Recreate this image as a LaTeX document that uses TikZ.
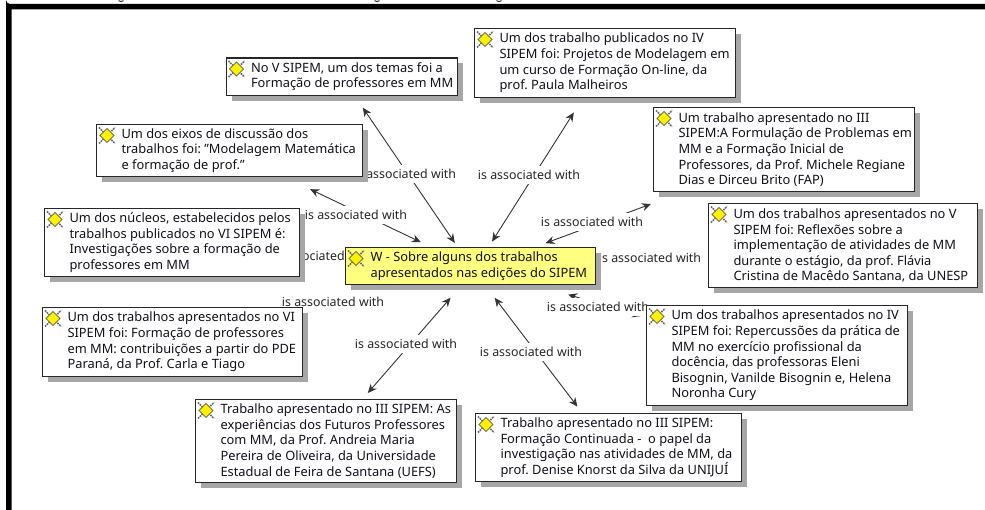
\documentclass[tikz,border=0pt]{standalone}
\usepackage{fontspec}
\setmainfont{Noto Sans}
\usetikzlibrary{arrows.meta,calc}
\pgfdeclarelayer{bg}
\pgfsetlayers{bg,main}
\frenchspacing
\definecolor{inkc}{HTML}{10101C}
\definecolor{wyellow}{HTML}{FFFF80}
\colorlet{boxshade}{black!35}
\tikzset{
  concept/.style={draw=black!85,line width=1.1pt,fill=white,inner sep=0pt,anchor=north west,text=inkc},
  boxshadow/.style={fill=boxshade,draw=none},
  link/.style={draw=black!80,line width=0.9pt,{Stealth[length=9pt,width=8pt]}-{Stealth[length=9pt,width=8pt]}},
  linklabel/.style={fill=white,inner xsep=0.5pt,inner ysep=0pt,minimum height=18pt,text=black!85,font=\fontsize{12.4}{14}\selectfont},
  pics/concepticon/.style={code={
    \draw[black!60,line width=1.5pt,dash pattern=on 1.6pt off 0.9pt] (-8,-8)--(8,8) (-8,8)--(8,-8);
    \draw[black!60!yellow,fill=yellow,line width=0.8pt] (-7,0)--(0,-7)--(7,0)--(0,7)--cycle;
  }}
}
\newlength{\bw}\newlength{\bh}
% [fill], name, x0, y0, x1, y1, text
\newcommand{\conceptbox}[7][white]{%
  \setlength{\bw}{\dimexpr#5pt-#3pt\relax}\setlength{\bh}{\dimexpr#6pt-#4pt\relax}%
  \path[boxshadow] ({#3+6},{#4+6}) -- ({#5+6},{#4+6}) -- ({#5+6},{#6+6}) -- ({#3+6},{#6+6}) -- cycle;%
  \node[concept,fill=#1,minimum width=\bw,minimum height=\bh] (#2) at (#3,#4)
    {\hspace*{25pt}\begin{minipage}{\dimexpr\bw-25pt\relax}\fontsize{12.85}{15.6}\selectfont\raggedright #7\end{minipage}};%
  \pic at (#3+11,#4+11.5) {concepticon};%
}
\begin{document}
\begin{tikzpicture}[x=1pt,y=-1pt]
\useasboundingbox (0,0) rectangle (985,510);
\conceptbox{na}{225.5}{57.5}{457}{95}{No V SIPEM, um dos temas foi a\\Formação de professores em MM}
\conceptbox{nb}{96}{124}{362}{176}{Um dos eixos de discussão dos\\trabalhos foi: "Modelagem Matemática\\e formação de prof."}
\conceptbox{nc}{44}{208}{299}{276}{Um dos núcleos, estabelecidos pelos\\trabalhos publicados no VI SIPEM é:\\Investigações sobre a formação de\\professores em MM}
\conceptbox{nd}{42}{307}{302}{376}{Um dos trabalhos apresentados no VI\\SIPEM foi: Formação de professores\\em MM: contribuições a partir do PDE\\Paraná, da Prof. Carla e Tiago}
\conceptbox{ne}{195}{399}{456}{482}{Trabalho apresentado no III SIPEM: As\\experiências dos Futuros Professores\\com MM, da Prof. Andreia Maria\\Pereira de Oliveira, da Universidade\\Estadual de Feira de Santana (UEFS)}
\conceptbox{nf}{475}{413}{741}{481}{Trabalho apresentado no III SIPEM:\\Formação Continuada -\ \ o papel da\\investigação nas atividades de MM, da\\prof. Denise Knorst da Silva da UNIJUÍ}
\conceptbox{ng}{646}{305}{907}{405}{Um dos trabalhos apresentados no IV\\SIPEM foi: Repercussões da prática de\\MM no exercício profissional da\\docência, das professoras Eleni\\Bisognin, Vanilde Bisognin e, Helena\\Noronha Cury}
\conceptbox{nh}{708}{203}{977}{287}{Um dos trabalhos apresentados no V\\SIPEM foi: Reflexões sobre a\\implementação de atividades de MM\\durante o estágio, da prof. Flávia\\Cristina de Macêdo Santana, da UNESP}
\conceptbox{ni}{653}{107}{914}{191}{Um trabalho apresentado no III\\SIPEM:A Formulação de Problemas em\\MM e a Formação Inicial de\\Professores, da Prof. Michele Regiane\\Dias e Dirceu Brito (FAP)}
\conceptbox{nj}{474}{28}{735}{97}{Um dos trabalho publicados no IV\\SIPEM foi: Projetos de Modelagem em\\um curso de Formação On-line, da\\prof. Paula Malheiros}
\conceptbox[wyellow]{nw}{345}{247}{595}{284}{W - Sobre alguns dos trabalhos\\apresentados nas edições do SIPEM}
\begin{pgfonlayer}{bg}
\draw[link,shorten <=5pt,shorten >=14pt] (nw) -- (na);
\draw[link,shorten <=11pt,shorten >=28pt] (nw) -- (nb);
\draw[link,shorten <=4pt,shorten >=4pt] (nw) -- (nc);
\draw[link,shorten <=60pt,shorten >=4pt] (nw) -- (nd);
\draw[link,shorten <=38pt,shorten >=8pt] ($(nw)+(5,3)$) -- (ne);
\draw[link,shorten <=16pt,shorten >=8pt] (nw) -- (nf);
\draw[link,shorten <=34pt,shorten >=5pt] (nw) -- (ng);
\draw[link,shorten <=8pt,shorten >=22pt] (nw) -- (nh);
\draw[link,shorten <=80pt,shorten >=142pt] ($(nw)+(0,5)$) -- ($(ni)+(0,5)$);
\draw[link,shorten <=29pt,shorten >=17pt] ($(nw)+(6,0)$) -- (nj);
\node[linklabel] (la) at (405,174) {is associated with};
\node[linklabel] (lb) at (356,215) {is associated with};
\node[linklabel] (lc) at (322,256) {is associated with};
\node[linklabel] (ld) at (333,302) {is associated with};
\node[linklabel] (le) at (406,344) {is associated with};
\node[linklabel] (lf) at (531,352) {is associated with};
\node[linklabel] (lg) at (598,307) {is associated with};
\node[linklabel] (lh) at (650,258) {is associated with};
\node[linklabel] (li) at (592,222) {is associated with};
\node[linklabel] (lj) at (529,175) {is associated with};
\end{pgfonlayer}
% page frame and the cut-off line of print above it
\fill[black] (985,4) -- (10,4) arc[start angle=90,end angle=180,radius=4] -- (6,510) -- (11.5,510) -- (11.5,9.5) -- (985,9.5) -- cycle;
\foreach \p in {121,377,499}{\draw[black!80,line width=1pt] (\p-2.5,0.6) .. controls (\p-1,2) and (\p+1,2) .. (\p+2.5,0.6);}
\end{tikzpicture}
\end{document}
